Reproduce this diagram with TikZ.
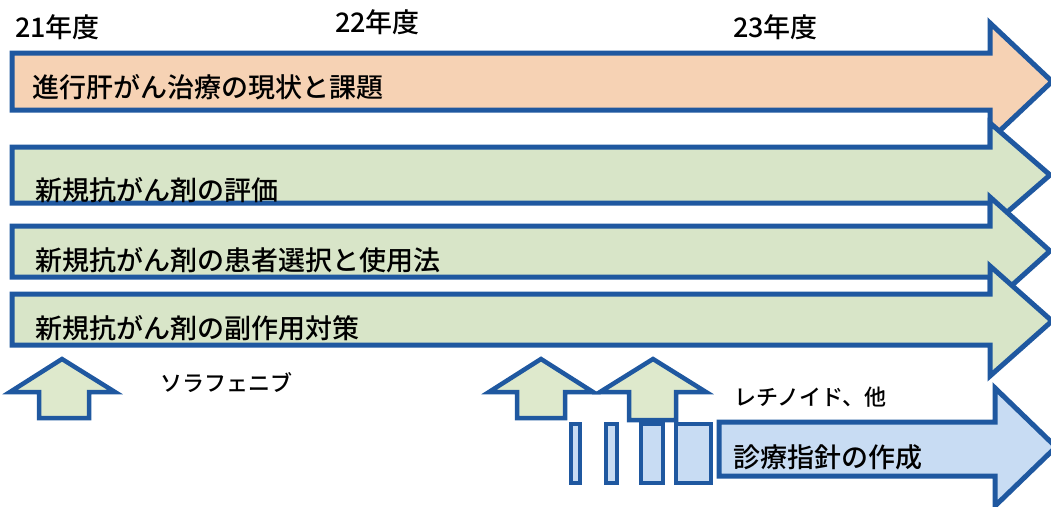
\documentclass[tikz,border=0pt]{standalone}
\usepackage{fontspec}
\setmainfont{Noto Sans CJK JP Medium}
\definecolor{edge}{RGB}{31,88,160}
\definecolor{peach}{RGB}{246,210,180}
\definecolor{sage}{RGB}{216,229,200}
\definecolor{upfill}{RGB}{222,233,204}
\definecolor{skyfill}{RGB}{200,220,243}
\begin{document}
\begin{tikzpicture}[x=1pt,y=-1pt,
  bar/.style={draw=edge, line width=5pt, line join=miter, miter limit=20},
  uparrow/.style={draw=edge, line width=4.5pt, line join=miter, fill=upfill},
  slot/.style={draw=edge, line width=4pt, fill=skyfill},
  lab/.style={anchor=west, inner sep=0pt, font=\fontsize{27}{27}\selectfont},
  yearlab/.style={anchor=west, inner sep=0pt, font=\fontsize{27}{27}\selectfont},
  smalllab/.style={anchor=west, inner sep=0pt, font=\fontsize{22}{22}\selectfont}]
\useasboundingbox (0,0) rectangle (1051,506);
\clip (0,0) rectangle (1051,506);
\fill[white] (0,0) rectangle (1051,506);

% year labels
\node[yearlab] (y21) at (15,27) {21年度};
\node[yearlab] (y22) at (335,22) {22年度};
\node[yearlab] (y23) at (733,27) {23年度};

% row arrows
\draw[bar, fill=peach] (12,53) -- (990,53) -- (990,23) -- (1052,81.5) -- (990,140) -- (990,110) -- (12,110) -- cycle;
\draw[bar, fill=sage] (12,147) -- (990,147) -- (990,123) -- (1050,175) -- (990,227) -- (990,203) -- (12,203) -- cycle;
\draw[bar, fill=sage] (12,226) -- (990,226) -- (990,197) -- (1050,251) -- (990,305) -- (990,277) -- (12,277) -- cycle;
\draw[bar, fill=sage] (12,294) -- (990,294) -- (990,266) -- (1052,321) -- (990,376) -- (990,345) -- (12,345) -- cycle;

\node[lab] (r1) at (32,87) {進行肝がん治療の現状と課題};
\node[lab] (r2) at (35,190) {新規抗がん剤の評価};
\node[lab] (r3) at (35,260) {新規抗がん剤の患者選択と使用法};
\node[lab] (r4) at (35,328) {新規抗がん剤の副作用対策};

% up arrows
\draw[uparrow] (62,359) -- (115,392) -- (89,392) -- (89,418) -- (39,418) -- (39,392) -- (10,392) -- cycle;
\draw[uparrow] (541,359) -- (593,392) -- (565,392) -- (565,418) -- (517,418) -- (517,392) -- (489,392) -- cycle;

% slots
\draw[slot] (571,424) rectangle (580,483);
\draw[slot] (606,424) rectangle (617,483);
\draw[slot] (641,424) rectangle (663,483);
\draw[slot] (676,424) rectangle (711,483);

\draw[uparrow] (653,359) -- (706,392) -- (676,392) -- (676,420) -- (629,420) -- (629,392) -- (600,392) -- cycle;

% guideline arrow
\draw[bar, fill=skyfill] (719,422) -- (995,422) -- (995,388) -- (1056,447) -- (995,506) -- (995,476) -- (719,476) -- cycle;

\node[smalllab] (sora) at (160,383) {ソラフェニブ};
\node[smalllab] (reti) at (734,397) {レチノイド、他};
\node[lab] (guide) at (733,457) {診療指針の作成};
\end{tikzpicture}
\end{document}
